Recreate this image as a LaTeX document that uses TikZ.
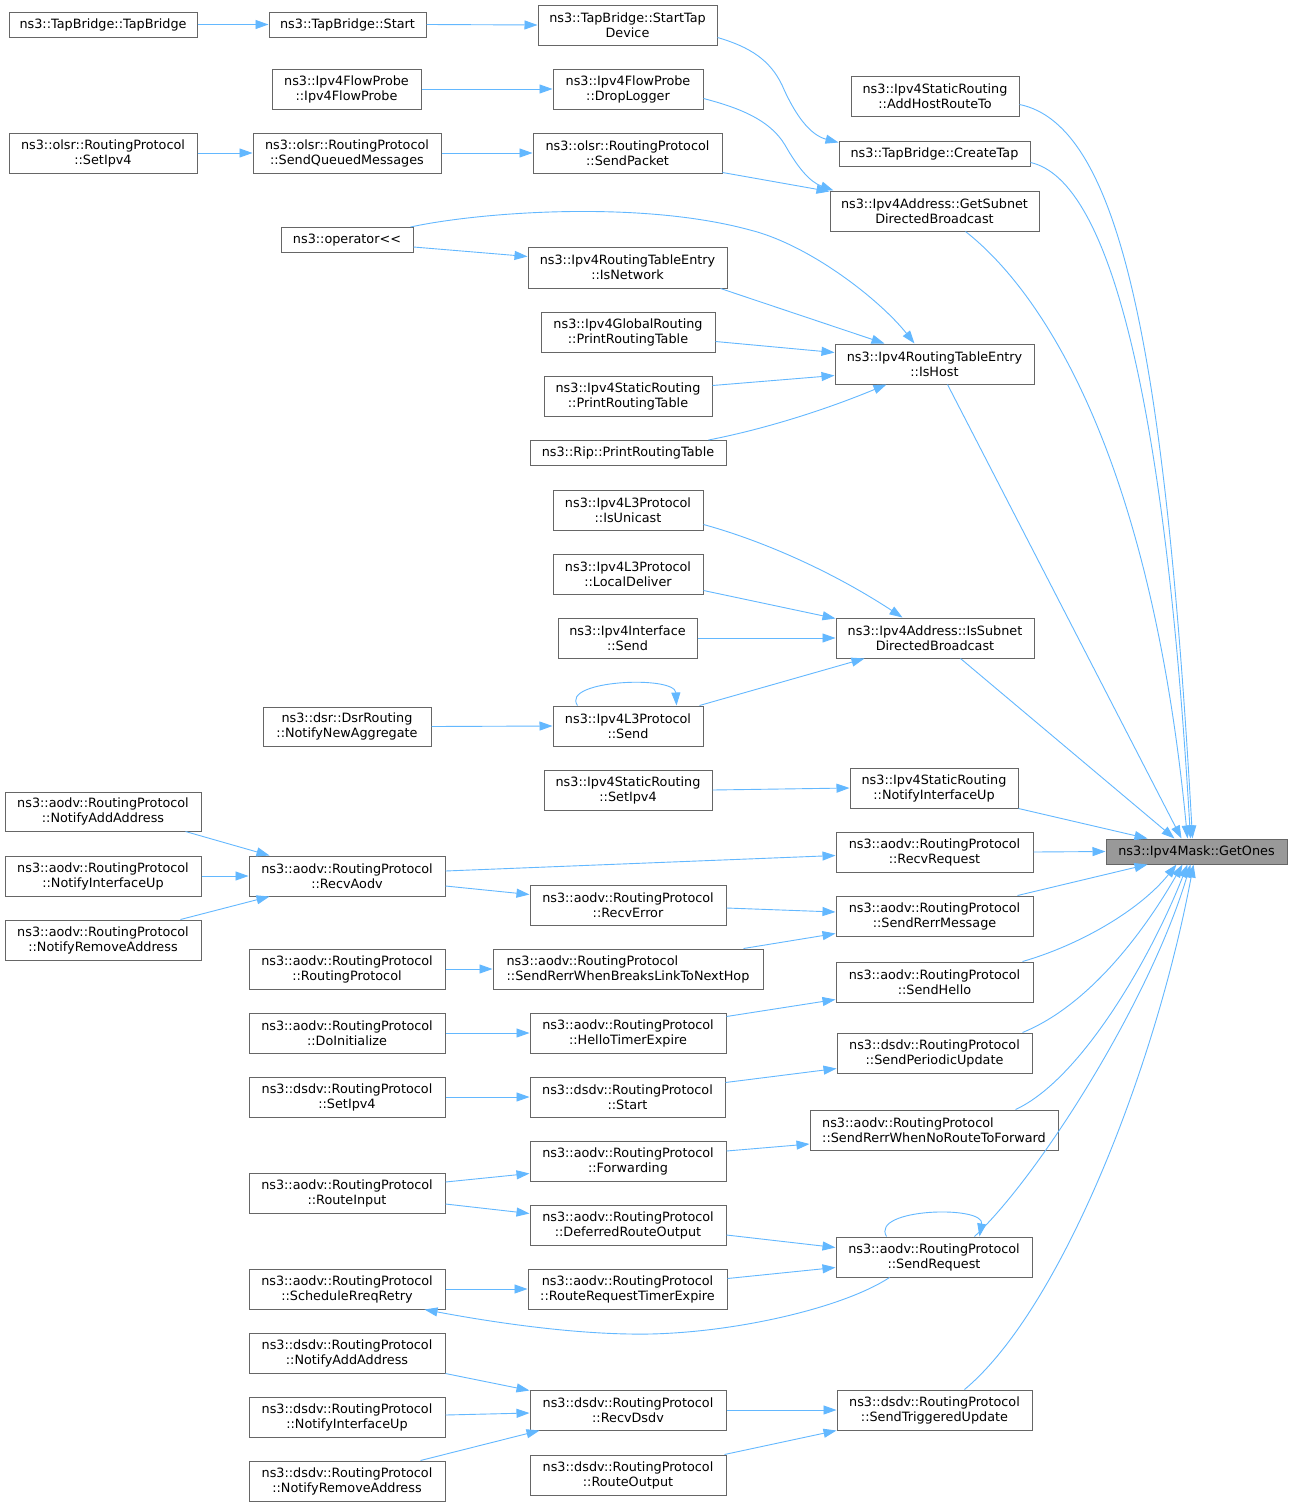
\documentclass[tikz,border=0pt]{standalone}
\usepackage{fontspec}
\setmainfont{DejaVu Sans}
\newfontfamily\dxfam{DejaVu Sans}
\usetikzlibrary{arrows.meta}
\definecolor{edgeblue}{HTML}{63B8FF}
\definecolor{boxgray}{HTML}{666666}
\definecolor{mainfill}{HTML}{999999}
\newcommand\dxfont{\dxfam\fontsize{12.8}{15}\selectfont}
\newcommand\bx[7][]{%
  \pgfmathsetmacro\bxw{#5-#3}%
  \pgfmathsetmacro\bxh{#6-#4}%
  \pgfmathsetmacro\bxcx{(#3+#5)/2}%
  \pgfmathsetmacro\bxcy{(#4+#6)/2}%
  \node[box,minimum width=\bxw pt,minimum height=\bxh pt,#1] (#2) at (\bxcx,\bxcy) {#7};}
\begin{document}
\begin{tikzpicture}[x=1pt,y=-1pt,
  box/.style={draw=boxgray,fill=white,line width=1pt,inner sep=0pt,align=center,font=\dxfont},
  cnx/.style={draw=edgeblue,line width=0.9pt,-{Triangle[length=13pt,width=9pt]}}]
\fill[white] (0,0) rectangle (1292,1507);
\useasboundingbox (0,0) rectangle (1292,1507);

% ---------------- nodes ----------------
\bx{A1}{9}{12}{197}{37}{ns3::TapBridge::TapBridge}
\bx{B1}{269}{12}{426}{37}{ns3::TapBridge::Start}
\bx{C1}{538}{5}{717}{45}{ns3::TapBridge::StartTap\\Device}
\bx{B2}{272}{69}{421}{109}{ns3::Ipv4FlowProbe\\::Ipv4FlowProbe}
\bx{C2}{553}{69}{703}{109}{ns3::Ipv4FlowProbe\\::DropLogger}
\bx{A2}{9}{133}{197}{173}{ns3::olsr::RoutingProtocol\\::SetIpv4}
\bx{B3}{253}{133}{441}{173}{ns3::olsr::RoutingProtocol\\::SendQueuedMessages}
\bx{C3}{533}{133}{722}{173}{ns3::olsr::RoutingProtocol\\::SendPacket}
\bx{D1}{851}{76}{1019}{116}{ns3::Ipv4StaticRouting\\::AddHostRouteTo}
\bx{D2}{839}{141}{1030}{166}{ns3::TapBridge::CreateTap}
\bx{D3}{830}{191}{1039}{231}{ns3::Ipv4Address::GetSubnet\\DirectedBroadcast}
\bx{B4}{281}{227.5}{413}{252.5}{ns3::operator<<}
\bx{C4}{528}{247}{727}{288}{ns3::Ipv4RoutingTableEntry\\::IsNetwork}
\bx{C5}{541}{312}{715}{352}{ns3::Ipv4GlobalRouting\\::PrintRoutingTable}
\bx{D4}{835}{344}{1034}{384}{ns3::Ipv4RoutingTableEntry\\::IsHost}
\bx{C6}{544}{376}{712}{416}{ns3::Ipv4StaticRouting\\::PrintRoutingTable}
\bx{C7}{530}{440.5}{726}{465.5}{ns3::Rip::PrintRoutingTable}
\bx{C8}{553}{490}{703}{530}{ns3::Ipv4L3Protocol\\::IsUnicast}
\bx{C9}{553}{554}{703}{594}{ns3::Ipv4L3Protocol\\::LocalDeliver}
\bx{C10}{558}{618}{697}{658}{ns3::Ipv4Interface\\::Send}
\bx{D5}{836}{618}{1034}{658}{ns3::Ipv4Address::IsSubnet\\DirectedBroadcast}
\bx{B5}{263}{707}{431}{746}{ns3::dsr::DsrRouting\\::NotifyNewAggregate}
\bx{C11}{553}{706}{703}{746}{ns3::Ipv4L3Protocol\\::Send}
\bx{C12}{544}{770}{712}{810}{ns3::Ipv4StaticRouting\\::SetIpv4}
\bx{D6}{850}{768}{1018}{808}{ns3::Ipv4StaticRouting\\::NotifyInterfaceUp}
\bx{A3}{5}{792}{201}{831}{ns3::aodv::RoutingProtocol\\::NotifyAddAddress}
\bx{D7}{836}{832}{1033}{872}{ns3::aodv::RoutingProtocol\\::RecvRequest}
\bx[fill=mainfill]{E}{1106}{839}{1287}{864}{ns3::Ipv4Mask::GetOnes}
\bx{A4}{5}{856}{201}{896}{ns3::aodv::RoutingProtocol\\::NotifyInterfaceUp}
\bx{B6}{249}{856}{445}{896}{ns3::aodv::RoutingProtocol\\::RecvAodv}
\bx{C13}{530}{885}{726}{925}{ns3::aodv::RoutingProtocol\\::RecvError}
\bx{D8}{836}{896}{1033}{936}{ns3::aodv::RoutingProtocol\\::SendRerrMessage}
\bx{A5}{5}{920}{201}{960}{ns3::aodv::RoutingProtocol\\::NotifyRemoveAddress}
\bx{B7}{249}{949}{445}{989}{ns3::aodv::RoutingProtocol\\::RoutingProtocol}
\bx[align=left]{C14}{493}{949}{763}{989}{ns3::aodv::RoutingProtocol\\::SendRerrWhenBreaksLinkToNextHop}
\bx{D9}{836}{962}{1033}{1002}{ns3::aodv::RoutingProtocol\\::SendHello}
\bx{B8}{249}{1013}{445}{1053}{ns3::aodv::RoutingProtocol\\::DoInitialize}
\bx{C15}{530}{1013}{726}{1053}{ns3::aodv::RoutingProtocol\\::HelloTimerExpire}
\bx{D10}{837}{1033}{1032}{1073}{ns3::dsdv::RoutingProtocol\\::SendPeriodicUpdate}
\bx{B9}{249}{1077}{445}{1117}{ns3::dsdv::RoutingProtocol\\::SetIpv4}
\bx{C16}{530}{1077}{725}{1117}{ns3::dsdv::RoutingProtocol\\::Start}
\bx[align=left]{D11}{810}{1110}{1058}{1150}{ns3::aodv::RoutingProtocol\\::SendRerrWhenNoRouteToForward}
\bx{C17}{530}{1141}{726}{1181}{ns3::aodv::RoutingProtocol\\::Forwarding}
\bx{B10}{249}{1173}{445}{1213}{ns3::aodv::RoutingProtocol\\::RouteInput}
\bx{C18}{530}{1205}{726}{1245}{ns3::aodv::RoutingProtocol\\::DeferredRouteOutput}
\bx{D12}{836}{1237}{1032}{1277}{ns3::aodv::RoutingProtocol\\::SendRequest}
\bx{B11}{249}{1269}{445}{1309}{ns3::aodv::RoutingProtocol\\::ScheduleRreqRetry}
\bx{C19}{528}{1269}{727}{1309}{ns3::aodv::RoutingProtocol\\::RouteRequestTimerExpire}
\bx{B12}{249}{1333}{445}{1373}{ns3::dsdv::RoutingProtocol\\::NotifyAddAddress}
\bx{C20}{530}{1390}{726}{1430}{ns3::dsdv::RoutingProtocol\\::RecvDsdv}
\bx{D13}{837}{1390}{1032}{1430}{ns3::dsdv::RoutingProtocol\\::SendTriggeredUpdate}
\bx{B13}{249}{1397}{445}{1437}{ns3::dsdv::RoutingProtocol\\::NotifyInterfaceUp}
\bx{B14}{249}{1461}{445}{1501}{ns3::dsdv::RoutingProtocol\\::NotifyRemoveAddress}
\bx{C21}{530}{1455}{726}{1495}{ns3::dsdv::RoutingProtocol\\::RouteOutput}

% ---------------- connectors ----------------
% top chains
\draw[cnx] (A1.east) -- (B1.west);
\draw[cnx] (B1.east) -- (C1.west);
\draw[cnx] ([shift={(0,-8)}]C1.south east) .. controls (750,47) and (770,60) .. (782,85)
  .. controls (795,115) and (810,135) .. ([shift={(0,2)}]D2.north west);
\draw[cnx] (B2.east) -- (C2.west);
\draw[cnx] ([shift={(0,-11)}]C2.south east) .. controls (740,108) and (770,120) .. (785,145)
  .. controls (798,168) and (810,182) .. ([shift={(4,0)}]D3.north west);
\draw[cnx] (A2.east) -- (B3.west);
\draw[cnx] (B3.east) -- (C3.west);
\draw[cnx] ([shift={(0,-1)}]C3.south east) -- ([shift={(0,1)}]D3.north west);

% IsHost group
\draw[cnx] ([shift={(-3,0)}]B4.north east) .. controls (480,212) and (640,200) .. (750,230)
  .. controls (810,245) and (880,300) .. ([shift={(80,0)}]D4.north west);
\draw[cnx] ([shift={(0,-6)}]B4.south east) -- ([shift={(0,10)}]C4.north west);
\draw[cnx] ([shift={(-7,0)}]C4.south east) -- ([shift={(50,0)}]D4.north west);
\draw[cnx] ([shift={(0,-11)}]C5.south east) -- ([shift={(0,9)}]D4.north west);
\draw[cnx] ([shift={(0,10)}]C6.north east) -- ([shift={(0,-9)}]D4.south west);
\draw[cnx] ([shift={(-18,0)}]C7.north east) .. controls (760,430) and (820,412) .. ([shift={(52,0)}]D4.south west);

% right column to GetOnes
\draw[cnx] ([shift={(0,-12)}]D1.south east) .. controls (1120,125) and (1165,350) .. ([shift={(87,0)}]E.north west);
\draw[cnx] ([shift={(0,-4)}]D2.south east) .. controls (1110,180) and (1165,400) .. ([shift={(85,0)}]E.north west);
\draw[cnx] ([shift={(-74,0)}]D3.south east) .. controls (1040,290) and (1150,450) .. ([shift={(82,0)}]E.north west);
\draw[cnx] ([shift={(113,0)}]D4.south west) -- ([shift={(76,0)}]E.north west);
\draw[cnx] ([shift={(125,0)}]D5.south west) -- ([shift={(69,0)}]E.north west);
\draw[cnx] (D6.south east) -- ([shift={(42,0)}]E.north west);
\draw[cnx] (D7.east) -- (E.west);
\draw[cnx] ([shift={(-16,0)}]D8.north east) -- ([shift={(42,0)}]E.south west);
\draw[cnx] ([shift={(-11,0)}]D9.north east) .. controls (1080,945) and (1140,910) .. ([shift={(71,0)}]E.south west);
\draw[cnx] ([shift={(-10,0)}]D10.north east) .. controls (1090,1005) and (1145,930) .. ([shift={(77,0)}]E.south west);
\draw[cnx] ([shift={(-43,0)}]D11.north east) .. controls (1080,1080) and (1150,960) .. ([shift={(82,0)}]E.south west);
\draw[cnx] ([shift={(-58,0)}]D12.north east) .. controls (1040,1175) and (1150,1000) .. ([shift={(85,0)}]E.south west);
\draw[cnx] ([shift={(-68,0)}]D13.north east) .. controls (1060,1310) and (1155,1070) .. ([shift={(88,0)}]E.south west);

% IsSubnetDirectedBroadcast group
\draw[cnx] ([shift={(0,-6)}]C8.south east) .. controls (760,540) and (830,570) .. ([shift={(67,0)}]D5.north west);
\draw[cnx] ([shift={(0,-4)}]C9.south east) -- ([shift={(0,1)}]D5.north west);
\draw[cnx] (C10.east) -- (D5.west);
\draw[cnx] ([shift={(-4,0)}]C11.north east) -- ([shift={(29,0)}]D5.south west);
\draw[cnx] ([shift={(25,0)}]C11.north west) .. controls (560,680) and (675,675) .. ([shift={(124,0)}]C11.north west);
\draw[cnx] (B5.east) -- (C11.west);
\draw[cnx] (C12.east) -- (D6.west);

% aodv RecvAodv group
\draw[cnx] ([shift={(-16,0)}]A3.south east) -- ([shift={(21,0)}]B6.north west);
\draw[cnx] (A4.east) -- (B6.west);
\draw[cnx] ([shift={(-21,0)}]A5.north east) -- ([shift={(21,0)}]B6.south west);
\draw[cnx] ([shift={(0,-5)}]B6.east) -- ([shift={(0,24)}]D7.north west);
\draw[cnx] ([shift={(0,10)}]B6.east) -- ([shift={(0,10)}]C13.north west);
\draw[cnx] ([shift={(0,3)}]C13.east) -- ([shift={(0,-4)}]D8.west);
\draw[cnx] ([shift={(-20,0)}]C14.north east) -- ([shift={(0,-3)}]D8.south west);
\draw[cnx] (B7.east) -- (C14.west);
\draw[cnx] ([shift={(0,4)}]C15.north east) -- ([shift={(0,-3)}]D9.south west);
\draw[cnx] (B8.east) -- (C15.west);
\draw[cnx] ([shift={(0,6)}]C16.north east) -- ([shift={(0,-5)}]D10.south west);
\draw[cnx] (B9.east) -- (C16.west);
\draw[cnx] ([shift={(0,-10)}]C17.east) -- ([shift={(0,14)}]D11.west);
\draw[cnx] ([shift={(0,-11)}]B10.east) -- ([shift={(0,-8)}]C17.south west);
\draw[cnx] ([shift={(0,11)}]B10.east) -- ([shift={(0,9)}]C18.north west);
\draw[cnx] ([shift={(0,10)}]C18.east) -- ([shift={(0,11)}]D12.north west);
\draw[cnx] ([shift={(0,10)}]C19.north east) -- ([shift={(0,-10)}]D12.south west);
\draw[cnx] (B11.east) -- (C19.west);
\draw[cnx] ([shift={(51,0)}]D12.north west) .. controls (870,1208) and (985,1205) .. ([shift={(144,0)}]D12.north west);
\draw[cnx] ([shift={(54,0)}]D12.south west) .. controls (840,1310) and (720,1336) .. (630,1334)
  .. controls (560,1333) and (480,1320) .. ([shift={(-21,0)}]B11.south east);

% dsdv group
\draw[cnx] (B12.south east) -- ([shift={(0,1)}]C20.north west);
\draw[cnx] ([shift={(0,-2)}]B13.east) -- ([shift={(0,3)}]C20.west);
\draw[cnx] ([shift={(-25,0)}]B14.north east) -- ([shift={(10,0)}]C20.south west);
\draw[cnx] (C20.east) -- (D13.west);
\draw[cnx] ([shift={(-2,0)}]C21.north east) -- (D13.south west);
\end{tikzpicture}
\end{document}
